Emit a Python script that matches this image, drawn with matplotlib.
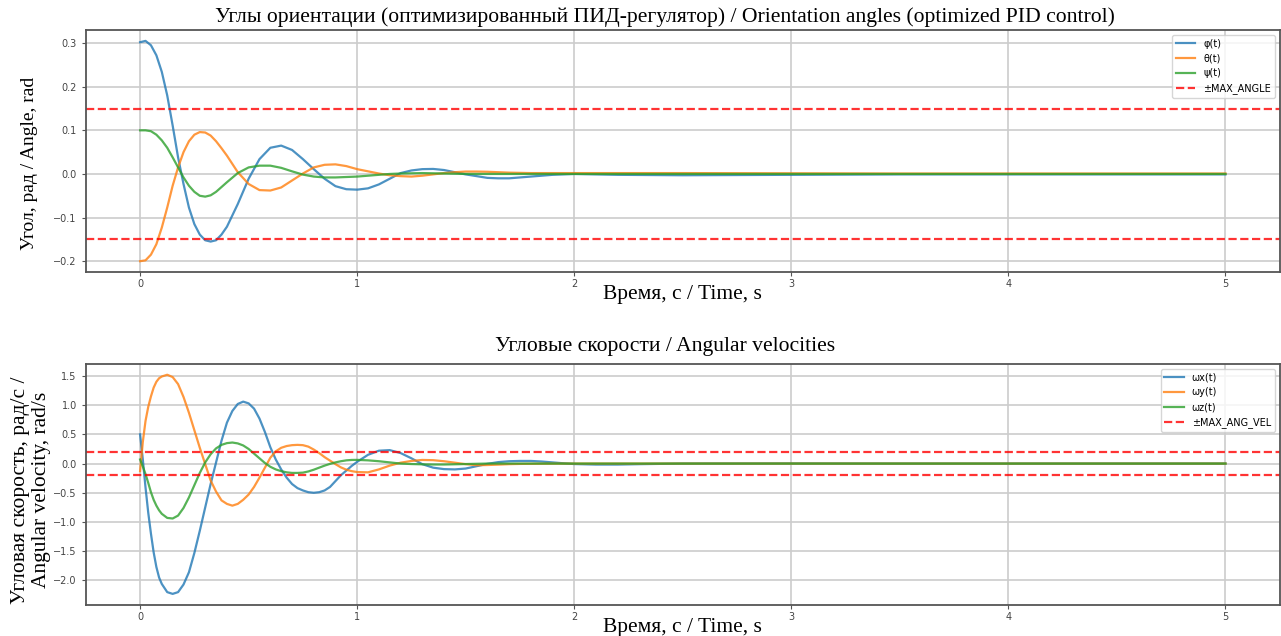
import numpy as np
import matplotlib.pyplot as plt

# time samples and values
t_ang = [0.0, 0.025, 0.05, 0.075, 0.1, 0.125, 0.15, 0.175, 0.2, 0.225, 0.25, 0.275, 0.3, 0.325, 0.35, 0.375, 0.4,
         0.45, 0.5, 0.55, 0.6, 0.65, 0.7, 0.75, 0.8, 0.85, 0.9, 0.95, 1.0, 1.05, 1.1, 1.15, 1.2, 1.25, 1.3, 1.35,
         1.4, 1.45, 1.5, 1.55, 1.6, 1.65, 1.7, 1.75, 1.8,
         1.9, 2.0,
         2.2, 2.5, 3.0, 3.5, 4.0, 4.5, 5.0]

phi = [0.302, 0.305, 0.295, 0.272, 0.234, 0.180, 0.111, 0.038, -0.023, -0.077, -0.115, -0.139, -0.152, -0.155, -0.152, -0.139, -0.121,
       -0.069, -0.011, 0.034, 0.060, 0.065, 0.055, 0.034, 0.011, -0.011, -0.028, -0.035, -0.036, -0.033, -0.024, -0.011, 0.002, 0.008, 0.011, 0.0115,
       0.009, 0.004, -0.001, -0.005, -0.009, -0.010, -0.010, -0.008, -0.006,
       -0.002, 0.0,
       -0.002, -0.003, -0.002, -0.001, -0.001, -0.001, -0.001]

theta = [-0.200, -0.198, -0.185, -0.161, -0.123, -0.077, -0.027, 0.015, 0.050, 0.075, 0.090, 0.096, 0.095, 0.088, 0.075, 0.059, 0.042,
         0.004, -0.023, -0.037, -0.038, -0.031, -0.015, 0.001, 0.015, 0.021, 0.022, 0.018, 0.011, 0.006, 0.001, -0.003, -0.005, -0.006, -0.004, -0.001,
         0.002, 0.004, 0.0055, 0.0055, 0.005, 0.004, 0.003, 0.0025, 0.002,
         0.002, 0.002,
         0.002, 0.002, 0.0015, 0.001, 0.001, 0.001, 0.001]

psi = [0.100, 0.100, 0.098, 0.090, 0.077, 0.060, 0.038, 0.015, -0.008, -0.027, -0.041, -0.050, -0.052, -0.049, -0.041, -0.030, -0.019,
       0.002, 0.015, 0.019, 0.019, 0.014, 0.006, -0.0015, -0.006, -0.008, -0.008, -0.007, -0.006, -0.004, -0.002, 0.0, 0.001, 0.0015, 0.002, 0.0015,
       0.001, 0.0005, 0.0, 0.0, 0.0, 0.0, 0.0, 0.0, 0.0,
       0.0, 0.0,
       0.0, 0.0, 0.0, 0.0, 0.0, 0.0, 0.0]

t_vel = [0.0, 0.0125, 0.025, 0.0375, 0.05, 0.0625, 0.075, 0.0875, 0.1,
         0.125, 0.15, 0.175, 0.2, 0.225, 0.25, 0.275, 0.3, 0.325, 0.35, 0.375, 0.4, 0.425, 0.45, 0.475, 0.5,
         0.525, 0.55, 0.575, 0.6, 0.625, 0.65, 0.675, 0.7, 0.725, 0.75, 0.775, 0.8, 0.825, 0.85, 0.875, 0.9,
         0.925, 0.95, 0.975, 1.0,
         1.05, 1.1, 1.15, 1.2, 1.25, 1.3, 1.35, 1.4, 1.45, 1.5, 1.55, 1.6, 1.65, 1.7, 1.75, 1.8, 1.85, 1.9, 1.95, 2.0,
         2.1, 2.2, 2.3, 2.4, 2.5, 3.0, 3.5, 4.0, 4.5, 5.0]

wx = [0.5, 0.07, -0.41, -0.84, -1.2, -1.52, -1.77, -1.95, -2.06,
      -2.2, -2.23, -2.2, -2.07, -1.86, -1.53, -1.15, -0.75, -0.35, 0.02, 0.39, 0.70, 0.90, 1.02, 1.06, 1.03,
      0.94, 0.77, 0.54, 0.28, 0.07, -0.10, -0.24, -0.35, -0.42, -0.46, -0.49, -0.50, -0.49, -0.46, -0.40, -0.30,
      -0.20, -0.12, -0.04, 0.03,
      0.15, 0.22, 0.23, 0.18, 0.09, -0.01, -0.07, -0.095, -0.10, -0.085, -0.045, -0.005, 0.025, 0.04, 0.045, 0.045, 0.035, 0.02, 0.005, -0.008,
      -0.017, -0.017, -0.01, -0.005, 0.0, 0.002, 0.0, 0.0, 0.0, 0.0]

wy = [-0.13, 0.37, 0.73, 0.97, 1.15, 1.30, 1.40, 1.46, 1.49,
      1.52, 1.48, 1.36, 1.14, 0.87, 0.57, 0.27, -0.01, -0.29, -0.48, -0.63, -0.69, -0.72, -0.69, -0.62, -0.53,
      -0.40, -0.24, -0.07, 0.10, 0.21, 0.27, 0.30, 0.315, 0.32, 0.315, 0.29, 0.24, 0.18, 0.11, 0.05, -0.01,
      -0.065, -0.105, -0.13, -0.145,
      -0.15, -0.10, -0.035, 0.015, 0.045, 0.062, 0.058, 0.04, 0.015, -0.01, -0.028, -0.025, -0.018, -0.01, -0.006, -0.004, -0.002, -0.001, 0.0, 0.0,
      0.0, 0.0, 0.0, 0.0, 0.0, 0.0, 0.0, 0.0, 0.0, 0.0]

wz = [0.07, -0.05, -0.18, -0.33, -0.49, -0.62, -0.72, -0.80, -0.86,
      -0.93, -0.94, -0.89, -0.76, -0.58, -0.37, -0.16, 0.02, 0.16, 0.26, 0.32, 0.35, 0.36, 0.345, 0.31, 0.25,
      0.17, 0.09, 0.01, -0.055, -0.10, -0.13, -0.15, -0.16, -0.16, -0.155, -0.135, -0.105, -0.07, -0.035, -0.005, 0.02,
      0.04, 0.055, 0.062, 0.063,
      0.055, 0.04, 0.02, 0.0, -0.008, -0.013, -0.016, -0.016, -0.012, -0.008, -0.004, 0.0, 0.0, 0.0, 0.0, 0.0, 0.0, 0.0, 0.0, 0.0,
      0.0, 0.0, 0.0, 0.0, 0.0, 0.0, 0.0, 0.0, 0.0, 0.0]

MAX_ANGLE = 0.15
MAX_ANG_VEL = 0.2

serif = 'Liberation Serif'

fig = plt.figure(figsize=(12.81, 6.36), dpi=100)
ax1 = fig.add_axes([0.067, 0.572, 0.932, 0.381])
ax2 = fig.add_axes([0.067, 0.049, 0.932, 0.379])

ax1.plot(t_ang, phi, label='φ(t)', lw=1.6, alpha=0.8)
ax1.plot(t_ang, theta, label='θ(t)', lw=1.6, alpha=0.8)
ax1.plot(t_ang, psi, label='ψ(t)', lw=1.6, alpha=0.8)
ax1.axhline(MAX_ANGLE, color='r', ls='--', lw=1.6, alpha=0.8, label='±MAX_ANGLE')
ax1.axhline(-MAX_ANGLE, color='r', ls='--', lw=1.6, alpha=0.8)
ax1.set_title('Углы ориентации (оптимизированный ПИД-регулятор) / Orientation angles (optimized PID control)',
              family=serif, fontsize=15.6, x=0.485, pad=6)
ax1.set_xlabel('Время, с / Time, s', family=serif, fontsize=15.5, labelpad=-3)
ax1.set_ylabel('Угол, рад / Angle, rad', family=serif, fontsize=14)
ax1.yaxis.set_label_coords(-0.04, 0.45)

ax2.plot(t_vel, wx, label='ωx(t)', lw=1.6, alpha=0.8)
ax2.plot(t_vel, wy, label='ωy(t)', lw=1.6, alpha=0.8)
ax2.plot(t_vel, wz, label='ωz(t)', lw=1.6, alpha=0.8)
ax2.axhline(MAX_ANG_VEL, color='r', ls='--', lw=1.6, alpha=0.8, label='±MAX_ANG_VEL')
ax2.axhline(-MAX_ANG_VEL, color='r', ls='--', lw=1.6, alpha=0.8)
ax2.set_title('Угловые скорости / Angular velocities', family=serif, fontsize=15.6, x=0.485, pad=9)
ax2.set_xlabel('Время, с / Time, s', family=serif, fontsize=15.5, labelpad=-3)
ax2.set_ylabel('Угловая скорость, рад/с /\nAngular velocity, rad/s', family=serif, fontsize=15.5,
               linespacing=1.15)
ax2.yaxis.set_label_coords(-0.0295, 0.477)

for ax in (ax1, ax2):
    ax.set_xlim(-0.25, 5.25)
    ax.grid(True, color='#cccccc', lw=1.2)
    ax.tick_params(labelsize=7, colors='#555555', labelcolor='#444444', length=3)
    ax.tick_params(axis='x', pad=2)
    for s in ax.spines.values():
        s.set_color('#555555')
        s.set_linewidth(1.3)
    ax.legend(loc='upper right', fontsize=7)

fig.savefig('out.png', dpi=100)
